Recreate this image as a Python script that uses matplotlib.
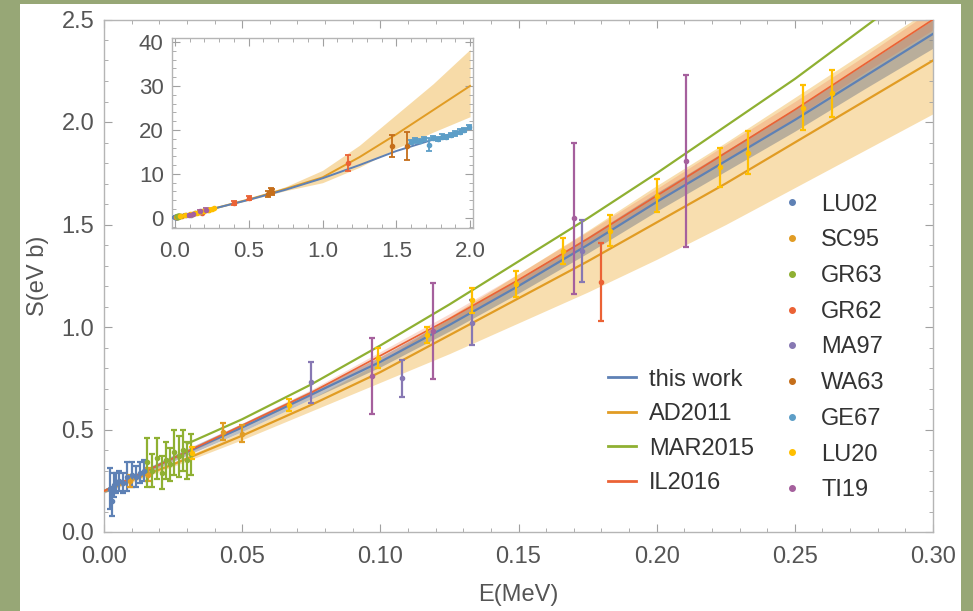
import numpy as np
import matplotlib.pyplot as plt
from matplotlib.patches import Rectangle
from matplotlib.lines import Line2D
from matplotlib.ticker import MultipleLocator, FormatStrFormatter

plt.rcParams['font.family'] = ['Liberation Sans', 'DejaVu Sans']

# colours (Mathematica default palette)
c_blue = '#5E81B5'
c_orange = '#E19C24'
c_green = '#8FB032'
c_red = '#EB6235'
c_purple = '#8778B3'
c_brown = '#C56E1A'
c_lblue = '#5D9EC7'
c_yellow = '#FFBF00'
c_mag = '#A5609D'

# ---- theory curves, main panel ----
e_grid = [0.0, 0.025, 0.05, 0.075, 0.1, 0.125, 0.15, 0.175, 0.2, 0.225, 0.25, 0.275, 0.3]
tw = [0.20, 0.36, 0.51, 0.67, 0.83, 1.01, 1.20, 1.40, 1.61, 1.81, 2.01, 2.22, 2.43]
tw_lo = [0.19, 0.345, 0.49, 0.65, 0.805, 0.98, 1.165, 1.36, 1.565, 1.76, 1.955, 2.16, 2.36]
tw_hi = [0.21, 0.375, 0.53, 0.69, 0.855, 1.04, 1.235, 1.44, 1.655, 1.86, 2.065, 2.28, 2.50]
ad = [0.20, 0.33, 0.47, 0.62, 0.78, 0.96, 1.14, 1.32, 1.51, 1.70, 1.90, 2.10, 2.30]
ad_lo = [0.19, 0.32, 0.45, 0.59, 0.73, 0.87, 1.02, 1.17, 1.33, 1.50, 1.68, 1.86, 2.04]
ad_hi = [0.21, 0.34, 0.49, 0.65, 0.83, 1.05, 1.26, 1.47, 1.69, 1.90, 2.12, 2.34, 2.56]
il = [0.20, 0.36, 0.52, 0.68, 0.86, 1.04, 1.23, 1.43, 1.64, 1.85, 2.06, 2.28, 2.50]
il_lo = [0.195, 0.35, 0.51, 0.665, 0.84, 1.02, 1.20, 1.40, 1.61, 1.81, 2.02, 2.24, 2.45]
il_hi = [0.205, 0.37, 0.53, 0.695, 0.88, 1.065, 1.26, 1.465, 1.675, 1.89, 2.10, 2.32, 2.55]
e_mar = [0.03, 0.05, 0.075, 0.1, 0.125, 0.15, 0.175, 0.2, 0.225, 0.25, 0.275, 0.3]
mar = [0.43, 0.55, 0.72, 0.91, 1.11, 1.32, 1.53, 1.75, 1.98, 2.21, 2.46, 2.71]

# ---- theory curves, inset ----
e_in = [0.0, 0.25, 0.5, 0.75, 1.0, 1.25, 1.5, 1.75, 2.0]
ad_in = [0.2, 2.0, 4.2, 6.6, 9.2, 13.8, 19.0, 24.5, 30.0]
ad_in_lo = [0.2, 1.9, 4.0, 6.2, 8.0, 11.5, 15.8, 19.5, 23.0]
ad_in_hi = [0.2, 2.1, 4.4, 7.1, 10.8, 16.5, 23.5, 30.5, 38.3]
tw_in = [0.2, 2.0, 4.1, 6.4, 9.0, 12.0, 15.2, 17.8, 20.5]

# ---- data sets (E, S, error) ----
lu02_e = [0.0020, 0.0028, 0.0035, 0.0045, 0.0055, 0.0068, 0.0085, 0.0100, 0.0115, 0.0130, 0.0145]
lu02_s = [0.21, 0.15, 0.23, 0.24, 0.25, 0.24, 0.27, 0.28, 0.27, 0.29, 0.30]
lu02_d = [0.10, 0.07, 0.06, 0.05, 0.05, 0.05, 0.07, 0.06, 0.05, 0.05, 0.05]
sc95_e = [0.0095, 0.016, 0.043, 0.050]
sc95_s = [0.25, 0.28, 0.49, 0.48]
sc95_d = [0.03, 0.03, 0.04, 0.04]
gr63_e = [0.0155, 0.0175, 0.019, 0.021, 0.0225, 0.024, 0.0255, 0.027, 0.0285, 0.030, 0.0315]
gr63_s = [0.34, 0.30, 0.36, 0.29, 0.35, 0.33, 0.39, 0.37, 0.40, 0.35, 0.38]
gr63_d = [0.12, 0.08, 0.10, 0.08, 0.09, 0.08, 0.11, 0.10, 0.10, 0.09, 0.10]
gr62_e = [0.180, 0.40, 0.50, 1.17]
gr62_s = [1.22, 3.4, 4.5, 12.5]
gr62_d = [0.19, 0.4, 0.4, 1.9]
ma97_e = [0.075, 0.108, 0.133, 0.173]
ma97_s = [0.73, 0.75, 1.02, 1.37]
ma97_d = [0.10, 0.09, 0.11, 0.15]
wa63_e = [0.63, 0.65, 0.66, 1.47, 1.57]
wa63_s = [5.4, 6.3, 5.9, 16.3, 16.4]
wa63_d = [0.6, 0.6, 0.6, 2.5, 3.2]
ge67_e = [1.60, 1.63, 1.66, 1.69, 1.72, 1.75, 1.78, 1.81, 1.84, 1.87, 1.90, 1.93, 1.96, 1.99]
ge67_s = [17.3, 17.6, 17.5, 17.9, 16.6, 18.2, 18.0, 18.5, 18.4, 18.9, 19.2, 19.6, 20.0, 20.6]
ge67_d = [0.5, 0.5, 0.5, 0.5, 1.5, 0.5, 0.5, 0.5, 0.5, 0.5, 0.5, 0.5, 0.5, 0.5]
lu20_e = [0.032, 0.067, 0.099, 0.117, 0.133, 0.149, 0.166, 0.183, 0.200, 0.223, 0.233, 0.253, 0.2635]
lu20_s = [0.385, 0.62, 0.85, 0.96, 1.13, 1.21, 1.37, 1.47, 1.64, 1.78, 1.85, 2.07, 2.14]
lu20_d = [0.03, 0.03, 0.05, 0.04, 0.06, 0.065, 0.065, 0.075, 0.08, 0.095, 0.105, 0.11, 0.115]
ti19_e = [0.097, 0.119, 0.170, 0.2107]
ti19_s = [0.76, 0.98, 1.53, 1.81]
ti19_d = [0.185, 0.235, 0.37, 0.42]

datasets = [
    ('LU02', c_blue, lu02_e, lu02_s, lu02_d),
    ('SC95', c_orange, sc95_e, sc95_s, sc95_d),
    ('GR63', c_green, gr63_e, gr63_s, gr63_d),
    ('GR62', c_red, gr62_e, gr62_s, gr62_d),
    ('MA97', c_purple, ma97_e, ma97_s, ma97_d),
    ('WA63', c_brown, wa63_e, wa63_s, wa63_d),
    ('GE67', c_lblue, ge67_e, ge67_s, ge67_d),
    ('LU20', c_yellow, lu20_e, lu20_s, lu20_d),
    ('TI19', c_mag, ti19_e, ti19_s, ti19_d),
]

W, H = 973, 611
fig = plt.figure(figsize=(9.73, 6.11), dpi=100)
fig.patch.set_facecolor('#97a776')
fig.patches.append(Rectangle((20 / W, 0), (961 - 20) / W, 1 - 4 / H, transform=fig.transFigure,
                             facecolor='white', edgecolor='none', zorder=-10))

frame_c = '#b5b5b5'
lab_c = '#555555'


def style(ax, fs, pad):
    for s in ax.spines.values():
        s.set_color(frame_c)
        s.set_linewidth(1.0)
    ax.tick_params(which='both', direction='in', top=True, right=True, color='#a0a0a0',
                   labelcolor=lab_c, labelsize=fs, pad=pad)
    ax.tick_params(which='major', length=6, width=0.8)
    ax.tick_params(which='minor', length=3, width=0.6)


def draw_data(ax, ms, lw, cs):
    for name, col, e, s, d in datasets:
        ax.errorbar(e, s, yerr=d, fmt='o', color=col, ms=ms, elinewidth=lw, capsize=cs,
                    capthick=lw, zorder=5)


# ---- main axes ----
ax = fig.add_axes([104 / W, 1 - 532 / H, (933 - 104) / W, (532 - 19.5) / H])
ax.set_facecolor('white')
ax.fill_between(e_grid, ad_lo, ad_hi, color='#f3c46e', alpha=0.55, lw=0, zorder=1)
ax.fill_between(e_grid, tw_lo, tw_hi, color='#7c8088', alpha=0.5, lw=0, zorder=2)
ax.fill_between(e_grid, il_lo, il_hi, color=c_red, alpha=0.22, lw=0, zorder=2)
ax.plot(e_grid, tw, color=c_blue, lw=1.6, zorder=3)
ax.plot(e_grid, ad, color=c_orange, lw=1.6, zorder=3)
ax.plot(e_mar, mar, color=c_green, lw=1.6, zorder=3)
ax.plot(e_grid, il, color=c_red, lw=1.2, zorder=3)
draw_data(ax, 3, 1.6, 2.5)
ax.set_xlim(0, 0.3)
ax.set_ylim(0, 2.5)
ax.xaxis.set_major_locator(MultipleLocator(0.05))
ax.xaxis.set_minor_locator(MultipleLocator(0.01))
ax.yaxis.set_major_locator(MultipleLocator(0.5))
ax.yaxis.set_minor_locator(MultipleLocator(0.1))
ax.xaxis.set_major_formatter(FormatStrFormatter('%.2f'))
ax.yaxis.set_major_formatter(FormatStrFormatter('%.1f'))
style(ax, 17, 7)
ax.tick_params(axis='x', pad=10)

fig.text(38 / W, 1 - 276 / H, 'S(eV b)', rotation=90, ha='center', va='center',
         fontsize=17, color=lab_c)
fig.text(518 / W, 1 - 595 / H, 'E(MeV)', ha='center', va='center', fontsize=17, color=lab_c)

# legends
line_h = [Line2D([], [], color=c, lw=2) for c in (c_blue, c_orange, c_green, c_red)]
leg1 = fig.legend(line_h, ['this work', 'AD2011', 'MAR2015', 'IL2016'], loc='center left',
                  bbox_to_anchor=(596 / W, 1 - 431.5 / H), frameon=False, fontsize=17,
                  handlelength=1.2, handletextpad=0.55, labelspacing=0.53, borderpad=0,
                  labelcolor='#333333')
pt_h = [Line2D([], [], color=d[1], marker='o', ms=4, lw=0) for d in datasets]
leg2 = fig.legend(pt_h, [d[0] for d in datasets], loc='center left',
                  bbox_to_anchor=(774 / W, 1 - 347.5 / H), frameon=False, fontsize=17,
                  handlelength=0.5, handletextpad=1.0, labelspacing=0.58, borderpad=0,
                  labelcolor='#333333')

# ---- inset ----
ai = fig.add_axes([172 / W, 1 - 228 / H, (473 - 172) / W, (228 - 38) / H])
ai.set_facecolor('white')
ai.fill_between(e_in, ad_in_lo, ad_in_hi, color='#f3c46e', alpha=0.6, lw=0, zorder=1)
ai.plot(e_in, ad_in, color=c_orange, lw=1.4, zorder=3)
ai.plot(e_in, tw_in, color=c_blue, lw=1.4, zorder=3)
draw_data(ai, 3, 1.3, 2)
ai.set_xlim(-0.02, 2.02)
ai.set_ylim(-2.3, 40.9)
ai.xaxis.set_major_locator(MultipleLocator(0.5))
ai.xaxis.set_minor_locator(MultipleLocator(0.1))
ai.yaxis.set_major_locator(MultipleLocator(10))
ai.yaxis.set_minor_locator(MultipleLocator(2))
ai.xaxis.set_major_formatter(FormatStrFormatter('%.1f'))
style(ai, 16, 6)
ai.tick_params(axis='x', pad=9)

fig.savefig('out.png', dpi=100, facecolor=fig.get_facecolor())
